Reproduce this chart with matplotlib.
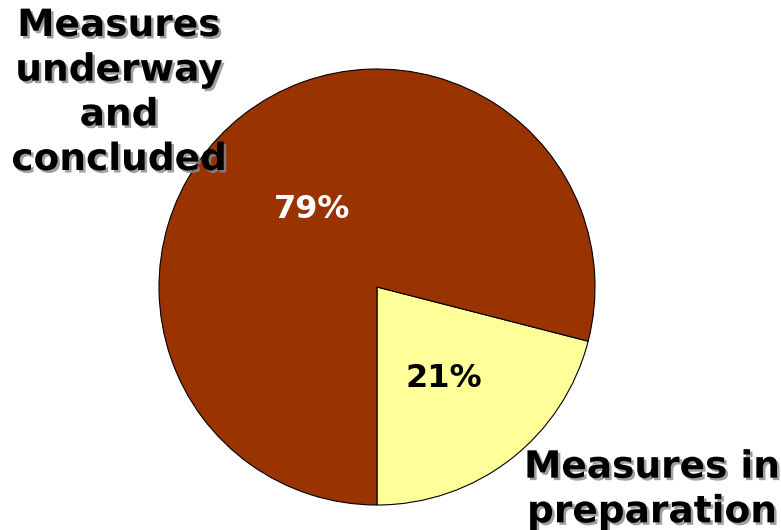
import matplotlib
matplotlib.use('Agg')
import matplotlib.pyplot as plt
import matplotlib.patheffects as pe
import matplotlib.transforms as mtransforms

labels = ['Measures in\npreparation', 'Measures\nunderway\nand\nconcluded']
shares = [21, 79]
colors = ['#FFFF99', '#993300']
pct_colors = ['black', 'white']

fig = plt.figure(figsize=(7.81, 5.30), dpi=100)
ax = fig.add_axes([159/781, 25/530, 436/781, 436/530])

wedges, texts, autotexts = ax.pie(shares, colors=colors, startangle=270,
                                  counterclock=True, autopct='%d%%', pctdistance=0.49,
                                  wedgeprops=dict(edgecolor='black', linewidth=0.8),
                                  radius=1)
shift = mtransforms.ScaledTranslation(1/100, -7/100, fig.dpi_scale_trans)
for t, c in zip(autotexts, pct_colors):
    t.set_color(c)
    t.set_fontsize(23)
    t.set_fontweight('bold')
    t.set_fontfamily('DejaVu Sans')
    t.set_transform(t.get_transform() + shift)
ax.set_xlim(-1, 1)
ax.set_ylim(-1, 1)
ax.set_aspect('equal')
ax.axis('off')

# outer labels with grey drop shadow
txt_kw = dict(fontsize=27, fontweight='bold', color='black', ha='center', va='center',
              linespacing=1.31, family='DejaVu Sans')
t1 = fig.text(119/781, 1 - 93/530, labels[1], **txt_kw)
t2 = fig.text(652/781, 1 - 490/530, labels[0], **txt_kw)
for t in (t1, t2):
    t.set_path_effects([pe.SimplePatchShadow(offset=(1.8, -1.8), shadow_rgbFace='#888888', alpha=0.8),
                        pe.Normal()])

fig.savefig('out.png', dpi=100)
